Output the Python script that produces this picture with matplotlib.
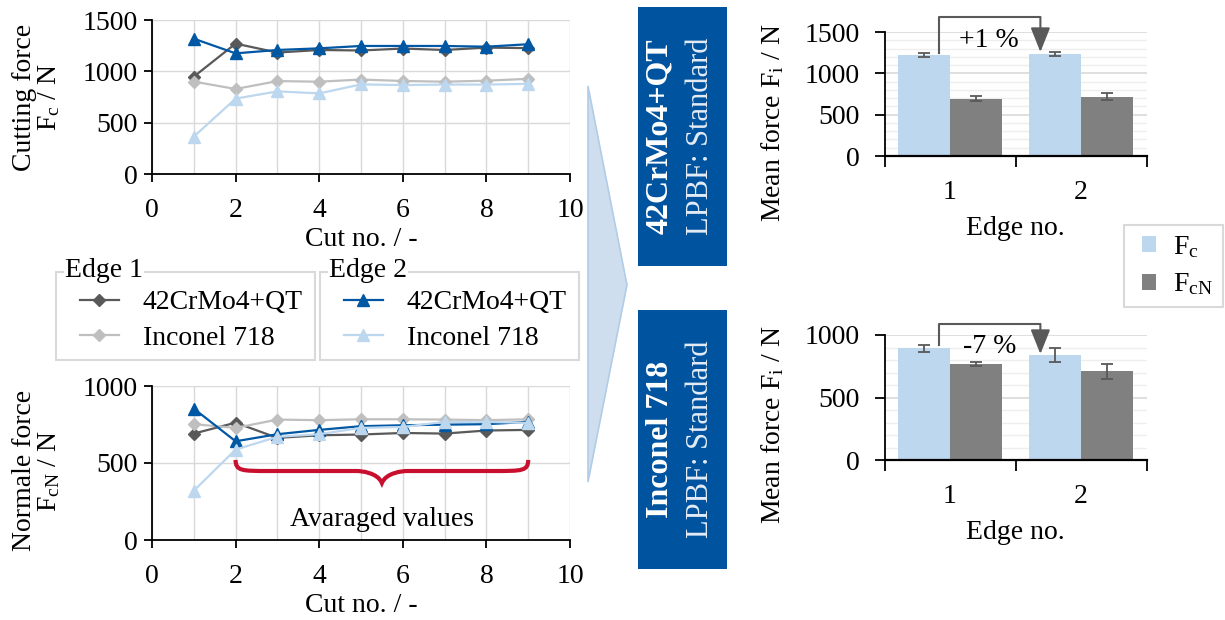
import numpy as np
import matplotlib
matplotlib.use('Agg')
import matplotlib.pyplot as plt
from matplotlib.patches import Rectangle, Polygon, PathPatch
from matplotlib.path import Path

plt.rcParams['font.family'] = ['Liberation Serif', 'DejaVu Serif']
plt.rcParams['mathtext.fontset'] = 'custom'
plt.rcParams['mathtext.rm'] = 'Liberation Serif'
plt.rcParams['mathtext.it'] = 'Liberation Serif:italic'
plt.rcParams['font.size'] = 20

FS = 20

# ---------------- data ----------------
cuts = [1, 2, 3, 4, 5, 6, 7, 8, 9]
fc_e1_steel = [948, 1270, 1183, 1208, 1203, 1222, 1208, 1231, 1226]
fc_e1_inc = [900, 828, 905, 899, 920, 906, 899, 909, 927]
fc_e2_steel = [1318, 1175, 1208, 1224, 1247, 1247, 1247, 1240, 1264]
fc_e2_inc = [364, 734, 805, 785, 873, 866, 871, 871, 878]

fcn_e1_steel = [691, 762, 663, 680, 685, 695, 691, 711, 715]
fcn_e1_inc = [752, 728, 782, 778, 784, 784, 782, 778, 784]
fcn_e2_steel = [853, 641, 687, 715, 739, 745, 749, 752, 767]
fcn_e2_inc = [320, 587, 670, 687, 728, 734, 767, 767, 760]

edges = [1, 2]
steel_fc = [1222, 1230]
steel_fc_err = [25, 25]
steel_fcn = [694, 718]
steel_fcn_err = [30, 40]
inc_fc = [893, 837]
inc_fc_err = [29, 56]
inc_fcn = [768, 709]
inc_fcn_err = [16, 63]

steel_change = "+1 %"
inc_change = "-7 %"
avg_range = [2, 9]

materials = ["42CrMo4+QT", "Inconel 718"]

# ---------------- colours ----------------
C_DGRAY = '#595959'
C_LGRAY = '#bfbfbf'
C_DBLUE = '#0057a3'
C_LBLUE = '#bdd7ee'
C_BAR2 = '#808080'
C_BOX = '#00549f'
C_GRID = '#d9d9d9'

W, H = 1225, 620
fig = plt.figure(figsize=(W / 100, H / 100), dpi=100)


def px_axes(x0, x1, y0, y1):
    return fig.add_axes([x0 / W, 1 - y1 / H, (x1 - x0) / W, (y1 - y0) / H])


def style_line_ax(ax, ymax, ylabel, label_y):
    ax.set_xlim(0, 10)
    ax.set_ylim(0, ymax)
    ax.set_xticks([0, 2, 4, 6, 8, 10])
    ax.set_xticks(np.arange(0, 11, 1), minor=True)
    ax.set_yticks(np.arange(0, ymax + 1, 500))
    ax.grid(True, which='both', axis='x', color=C_GRID, lw=1)
    ax.grid(True, which='major', axis='y', color=C_GRID, lw=1)
    ax.set_axisbelow(True)
    for s in ['top', 'right']:
        ax.spines[s].set_visible(False)
    for s in ['left', 'bottom']:
        ax.spines[s].set_color('black')
        ax.spines[s].set_linewidth(1.3)
    ax.tick_params(which='major', direction='out', length=6, width=1.3, labelsize=FS)
    ax.tick_params(axis='x', which='major', pad=11)
    ax.tick_params(axis='y', which='major', pad=4)
    ax.tick_params(which='minor', length=0)
    ax.set_xlabel("Cut no. / -", fontsize=FS, labelpad=3)
    ax.set_ylabel(ylabel, fontsize=FS, linespacing=0.95)
    ax.yaxis.set_label_coords(-0.215, label_y)


def plot_lines(ax, e1s, e1i, e2s, e2i):
    h1, = ax.plot(cuts, e1s, color=C_DGRAY, marker='D', ms=6.5, lw=1.6, label=materials[0], clip_on=False, zorder=3)
    h2, = ax.plot(cuts, e1i, color=C_LGRAY, marker='D', ms=6.5, lw=1.6, label=materials[1], clip_on=False, zorder=3)
    h3, = ax.plot(cuts, e2s, color=C_DBLUE, marker='^', ms=9, lw=1.6, label=materials[0], clip_on=False, zorder=4)
    h4, = ax.plot(cuts, e2i, color=C_LBLUE, marker='^', ms=9, lw=1.6, label=materials[1], clip_on=False, zorder=4)
    return h1, h2, h3, h4


ax1 = px_axes(152, 570, 20, 174)
plot_lines(ax1, fc_e1_steel, fc_e1_inc, fc_e2_steel, fc_e2_inc)
style_line_ax(ax1, 1500, "Cutting force\nF$_\\mathregular{c}$ / N", 0.5)

ax2 = px_axes(152, 570, 386, 540)
h1, h2, h3, h4 = plot_lines(ax2, fcn_e1_steel, fcn_e1_inc, fcn_e2_steel, fcn_e2_inc)
style_line_ax(ax2, 1000, "Normale force\nF$_\\mathregular{cN}$ / N", 0.45)

# curly brace for averaged values
xa, xb = avg_range
xm = (xa + xb) / 2
yt, yh, yc = 520, 448, 370
verts = [(xa, yt), (xa, yh), (xa + 0.15, yh), (xa + 0.8, yh),
         (xm - 0.6, yh), (xm - 0.5, yh), (xm - 0.1, yh - 10), (xm, yc),
         (xm + 0.1, yh - 10), (xm + 0.5, yh), (xm + 0.6, yh),
         (xb - 0.8, yh), (xb - 0.15, yh), (xb, yh), (xb, yt)]
codes = [Path.MOVETO, Path.CURVE4, Path.CURVE4, Path.CURVE4,
         Path.LINETO, Path.CURVE4, Path.CURVE4, Path.CURVE4,
         Path.CURVE4, Path.CURVE4, Path.CURVE4,
         Path.LINETO, Path.CURVE4, Path.CURVE4, Path.CURVE4]
ax2.add_patch(PathPatch(Path(verts, codes), fill=False, edgecolor='#c8102e', lw=3, zorder=5))
ax2.text(xm, 130, "Avaraged values", ha='center', va='center', fontsize=FS)

# legends (Edge 1 / Edge 2)
for (x0, x1), hs, title in [((56, 315), (h1, h2), "Edge 1"), ((320, 579), (h3, h4), "Edge 2")]:
    fig.patches.append(Rectangle((x0 / W, 1 - 360 / H), (x1 - x0) / W, 88 / H,
                                 transform=fig.transFigure, fill=False, edgecolor=C_GRID, lw=1.5))
    fig.legend(handles=hs, labels=[h.get_label() for h in hs], loc='upper left',
               bbox_to_anchor=((x0 + 24) / W, 1 - 290 / H), frameon=False, fontsize=FS,
               handlelength=1.4, handletextpad=0.86, labelspacing=0.36, borderpad=0,
               borderaxespad=0)
    fig.text((x0 + 9) / W, 1 - 271 / H, title, ha='left', va='center', fontsize=FS,
             bbox=dict(facecolor='white', edgecolor='none', pad=0.5))

# big arrow
arrow_pts = [(588, 86), (627, 285), (588, 482)]
fig.patches.append(Polygon([(x / W, 1 - y / H) for x, y in arrow_pts], closed=True,
                           transform=fig.transFigure, facecolor='#cfdeee', edgecolor='#b0cce6', lw=1.2))

# blue boxes
for (y0, y1), mat in [((7, 266), materials[0]), ((310, 569), materials[1])]:
    fig.patches.append(Rectangle((638 / W, 1 - y1 / H), 89 / W, (y1 - y0) / H,
                                 transform=fig.transFigure, facecolor=C_BOX, edgecolor='none'))
    yc_ = 1 - (y0 + y1) / 2 / H
    fig.text(660 / W, yc_, mat, rotation=90, ha='center', va='center', fontsize=23,
             fontweight='bold', color='white')
    fig.text(701 / W, yc_, "LPBF: Standard", rotation=90, ha='center', va='center',
             fontsize=22, color='#e4ecf6')


def bar_ax(ax, fc, fce, fcn, fcne, ymax, change, y_top, y_start, y_tip, y_txt, label_y):
    x = np.array(edges, dtype=float)
    bw = 0.4
    b1 = ax.bar(x - bw / 2, fc, bw, color=C_LBLUE, label="F$_\\mathregular{c}$", zorder=2)
    b2 = ax.bar(x + bw / 2, fcn, bw, color=C_BAR2, label="F$_\\mathregular{cN}$", zorder=2)
    ax.errorbar(x - bw / 2, fc, yerr=fce, fmt='none', ecolor=C_DGRAY, elinewidth=1.3, capsize=4, capthick=1.3, zorder=3)
    ax.errorbar(x + bw / 2, fcn, yerr=fcne, fmt='none', ecolor=C_DGRAY, elinewidth=1.3, capsize=4, capthick=1.3, zorder=3)
    ax.set_xlim(0.5, 2.5)
    ax.set_ylim(0, ymax)
    ax.set_yticks(np.arange(0, ymax + 1, 500))
    ax.set_yticks(np.arange(0, ymax + 1, 100), minor=True)
    ax.grid(True, which='major', axis='y', color=C_GRID, lw=1.2)
    ax.grid(True, which='minor', axis='y', color='#eeeeee', lw=1)
    ax.set_axisbelow(True)
    ax.set_xticks([0.5, 1.5, 2.5])
    ax.set_xticklabels([])
    ax.set_xticks(x, minor=True)
    ax.set_xticklabels([str(e) for e in edges], minor=True)
    ax.tick_params(axis='x', which='major', direction='out', length=8, width=1.3)
    ax.tick_params(axis='x', which='minor', length=0, labelsize=FS, pad=17)
    ax.tick_params(axis='y', which='major', direction='out', length=7, width=1.3, labelsize=FS, pad=11)
    ax.tick_params(axis='y', which='minor', length=0)
    for s in ['top', 'right']:
        ax.spines[s].set_visible(False)
    ax.spines['left'].set_linewidth(1.3)
    ax.spines['bottom'].set_linewidth(1.6)
    ax.set_xlabel("Edge no.", fontsize=FS, labelpad=8)
    ax.set_ylabel("Mean force F$_\\mathregular{i}$ / N", fontsize=FS)
    ax.yaxis.set_label_coords(-0.375, label_y)
    xl, xr = 0.915, 1.69
    ax.plot([xl, xl, xr], [y_start, y_top, y_top], color=C_DGRAY, lw=1.5, clip_on=False, zorder=4)
    ax.annotate("", xy=(xr, y_tip), xytext=(xr, y_top), annotation_clip=False,
                arrowprops=dict(arrowstyle='-|>,head_length=0.75,head_width=0.3', color=C_DGRAY, lw=1.5,
                                shrinkA=0, shrinkB=0), zorder=4)
    ax.text(1.30, y_txt, change, ha='center', va='center', fontsize=FS)
    return b1, b2


ax3 = px_axes(884.5, 1146.5, 32, 156)
b1, b2 = bar_ax(ax3, steel_fc, steel_fc_err, steel_fcn, steel_fcn_err, 1500, steel_change,
                1680, 1250, 1258, 1400, 0.27)
ax4 = px_axes(884.5, 1146.5, 335, 460)
bar_ax(ax4, inc_fc, inc_fc_err, inc_fcn, inc_fcn_err, 1000, inc_change,
       1088, 920, 848, 905, 0.28)

# bar legend
fig.patches.append(Rectangle((1124 / W, 1 - 307 / H), 99 / W, 82 / H,
                             transform=fig.transFigure, fill=False, edgecolor=C_GRID, lw=1.5))
fig.legend(handles=[b1, b2], loc='upper left', bbox_to_anchor=(1142 / W, 1 - 234 / H),
           frameon=False, fontsize=FS, handlelength=0.5, handleheight=0.5,
           handletextpad=0.6, labelspacing=0.42, borderpad=0, borderaxespad=0)

fig.savefig('out.png', dpi=100, facecolor='white')
